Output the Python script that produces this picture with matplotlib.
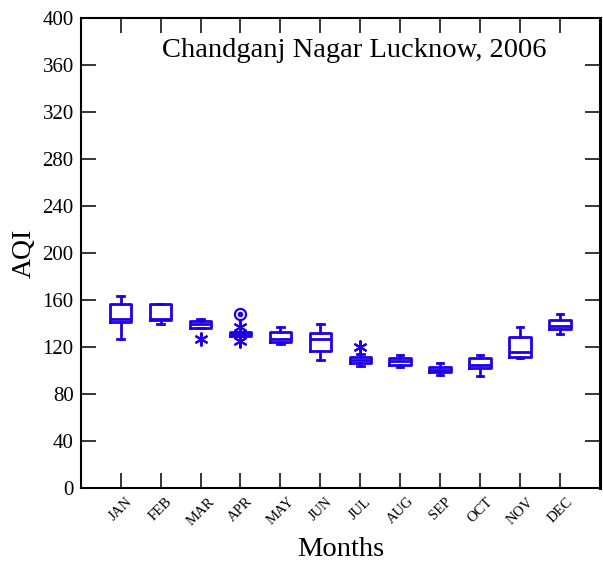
import numpy as np
import matplotlib
matplotlib.use('Agg')
import matplotlib.pyplot as plt

# данные
months = ['JAN', 'FEB', 'MAR', 'APR', 'MAY', 'JUN', 'JUL', 'AUG', 'SEP', 'OCT', 'NOV', 'DEC']
whislo = [126.8, 139.8, 136.0, 129.4, 122.6, 108.9, 103.8, 102.7, 96.2, 95.3, 110.9, 131.0]
q1 = [141.0, 143.0, 136.0, 129.4, 124.5, 116.6, 106.7, 104.7, 98.4, 102.4, 111.8, 135.0]
med = [143.8, 143.5, 139.3, 131.0, 126.8, 126.5, 109.0, 108.1, 100.5, 104.7, 116.0, 138.1]
q3 = [156.3, 156.6, 142.1, 132.5, 133.0, 131.6, 111.2, 110.4, 103.3, 110.9, 128.5, 142.7]
whishi = [163.4, 156.6, 143.5, 132.5, 137.3, 139.3, 113.8, 113.2, 106.4, 113.2, 137.3, 148.3]

# выбросы: звёздочки и кружок
star_month = ['MAR', 'APR', 'APR', 'JUL']
star_aqi = [126.8, 137.3, 125.1, 120.0]
circle_month = ['APR']
circle_aqi = [147.8]

title = 'Chandganj Nagar Lucknow, 2006'
col = '#1e00e8'

plt.rcParams['font.family'] = ['Liberation Serif', 'DejaVu Serif']

fig = plt.figure(figsize=(6.03, 5.63), dpi=100)
ax = fig.add_axes([0.1338, 0.1332, 0.995 - 0.1338, 0.968 - 0.1332])

pos = np.arange(1, len(months) + 1)
stats = []
for i in range(len(months)):
    stats.append({'med': med[i], 'q1': q1[i], 'q3': q3[i],
                  'whislo': whislo[i], 'whishi': whishi[i], 'fliers': []})

lp = dict(color=col, linewidth=2)
ax.bxp(stats, positions=pos, widths=0.54, showfliers=False,
       boxprops=lp, medianprops=lp, whiskerprops=lp,
       capprops=lp, capwidths=0.16)

sx = [months.index(m) + 1 for m in star_month]
ax.plot(sx, star_aqi, linestyle='none', marker=(6, 2, 0), markersize=10,
        markeredgecolor=col, markeredgewidth=1.5, color=col)
cx = [months.index(m) + 1 for m in circle_month]
ax.plot(cx, circle_aqi, linestyle='none', marker='o', markersize=8,
        markerfacecolor='none', markeredgecolor=col, markeredgewidth=1.6)
ax.plot(cx, circle_aqi, linestyle='none', marker='o', markersize=3, color=col)

ax.set_xlim(0, 13)
ax.set_ylim(0, 400)
ax.set_yticks(np.arange(0, 401, 40))
ax.set_xticks(pos)
ax.set_xticklabels(months, rotation=45, ha='center')

ax.tick_params(direction='in', length=10.5, width=1.1, top=True, right=True,
               labelsize=15, colors='black')
ax.tick_params(axis='y', pad=5)
ax.tick_params(axis='x', labelsize=10.5, pad=5)
for s in ['left', 'bottom', 'top']:
    ax.spines[s].set_linewidth(1.5)
ax.spines['right'].set_linewidth(2.2)

ax.set_xlabel('Months', fontsize=20.5, labelpad=6.5)
ax.set_ylabel('AQI', fontsize=20, labelpad=4)
ax.text(0.156, 0.918, title, transform=ax.transAxes, fontsize=20.5,
        va='baseline', ha='left')

fig.savefig('out.png', dpi=100)
